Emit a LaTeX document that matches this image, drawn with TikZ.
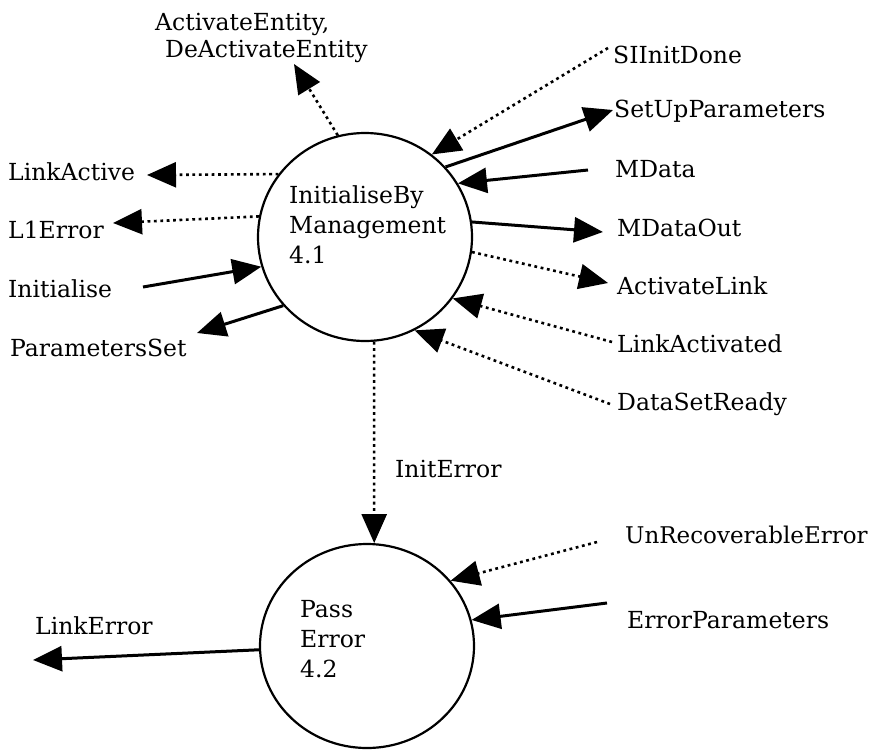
\documentclass[tikz,border=0pt]{standalone}
\usepackage{fontspec}
\setmainfont{DejaVu Serif}
\usetikzlibrary{arrows.meta,shapes.geometric}
\begin{document}
\begin{tikzpicture}[x=1pt,y=-1pt,
  lbl/.style={anchor=base west,inner sep=0pt,font=\fontsize{23.5}{30}\selectfont},
  proc/.style={draw,ellipse,line width=2.2pt,inner sep=0pt},
  head/.style={-{Triangle[length=29pt,width=25pt]}},
  flow/.style={head,line width=3pt},
  ctrl/.style={head,line width=2.6pt,dash pattern=on 2.8pt off 3.6pt}]
\useasboundingbox (0,0) rectangle (873,750);

% processes
\node[proc,minimum width=214pt,minimum height=208pt] (p1) at (365,237) {};
\node[proc,minimum width=214pt,minimum height=204pt] (p2) at (367,646) {};
% multi-line labels are placed by the baseline of their last line
\node[lbl,align=left] (p1t) at (289,263) {InitialiseBy\\Management\\4.1};
\node[lbl,align=left] (p2t) at (300,677) {Pass\\Error\\4.2};

% left-hand labels
\node[lbl,align=left,font=\fontsize{23.5}{27}\selectfont] (ae) at (155,57) {ActivateEntity,\\\hspace*{10pt}DeActivateEntity};
\node[lbl] (la) at (8,180) {LinkActive};
\node[lbl] (le) at (8,238) {L1Error};
\node[lbl] (in) at (8,297) {Initialise};
\node[lbl] (ps) at (10,356) {ParametersSet};
\node[lbl] (lk) at (35,634) {LinkError};

% right-hand labels
\node[lbl] (sd) at (613,63) {SIInitDone};
\node[lbl] (su) at (614,117) {SetUpParameters};
\node[lbl] (md) at (615,177) {MData};
\node[lbl] (mo) at (617,236) {MDataOut};
\node[lbl] (al) at (617,294) {ActivateLink};
\node[lbl] (lv) at (617,352) {LinkActivated};
\node[lbl] (dr) at (617,410) {DataSetReady};
\node[lbl] (ie) at (395,477) {InitError};
\node[lbl,font=\fontsize{23}{30}\selectfont] (ue) at (625,543) {UnRecoverableError};
\node[lbl] (ep) at (627,628) {ErrorParameters};

% free ends of the flows
\coordinate (aeE) at (294,64);
\coordinate (laE) at (147,175);
\coordinate (leE) at (113,223);
\coordinate (inE) at (143,287);
\coordinate (psE) at (197,333);
\coordinate (lkE) at (33,660);
\coordinate (sdE) at (608,48);
\coordinate (suE) at (613,110);
\coordinate (mdE) at (588,170);
\coordinate (moE) at (603,232);
\coordinate (alE) at (608,283);
\coordinate (lvE) at (612,342);
\coordinate (drE) at (610,404);
\coordinate (ueE) at (597,542);
\coordinate (epE) at (607,603);

% flows of InitialiseByManagement
\draw[ctrl] (p1.105) -- (aeE);
\draw[ctrl] (p1.144.5) -- (laE);
\draw[ctrl] (p1.169.7) -- (leE);
\draw[flow] (inE) -- (p1.196);
\draw[flow] (p1.220.5) -- (psE);
\draw[ctrl] (sdE) -- (p1.51.3);
\draw[flow] (p1.41.3) -- (suE);
\draw[flow] (mdE) -- (p1.30.4);
\draw[flow] (p1.8.7) -- (moE);
\draw[ctrl] (p1.-8.7) -- (alE);
\draw[ctrl] (lvE) -- (p1.-35.7);
\draw[ctrl] (drE) -- (p1.-62.2);
\draw[ctrl] (p1.-85.6) -- (p2.86.1);

% flows of PassError
\draw[ctrl] (ueE) -- (p2.38.7);
\draw[flow] (epE) -- (p2.14);
\draw[flow] (p2.182.1) -- (lkE);
\end{tikzpicture}
\end{document}
